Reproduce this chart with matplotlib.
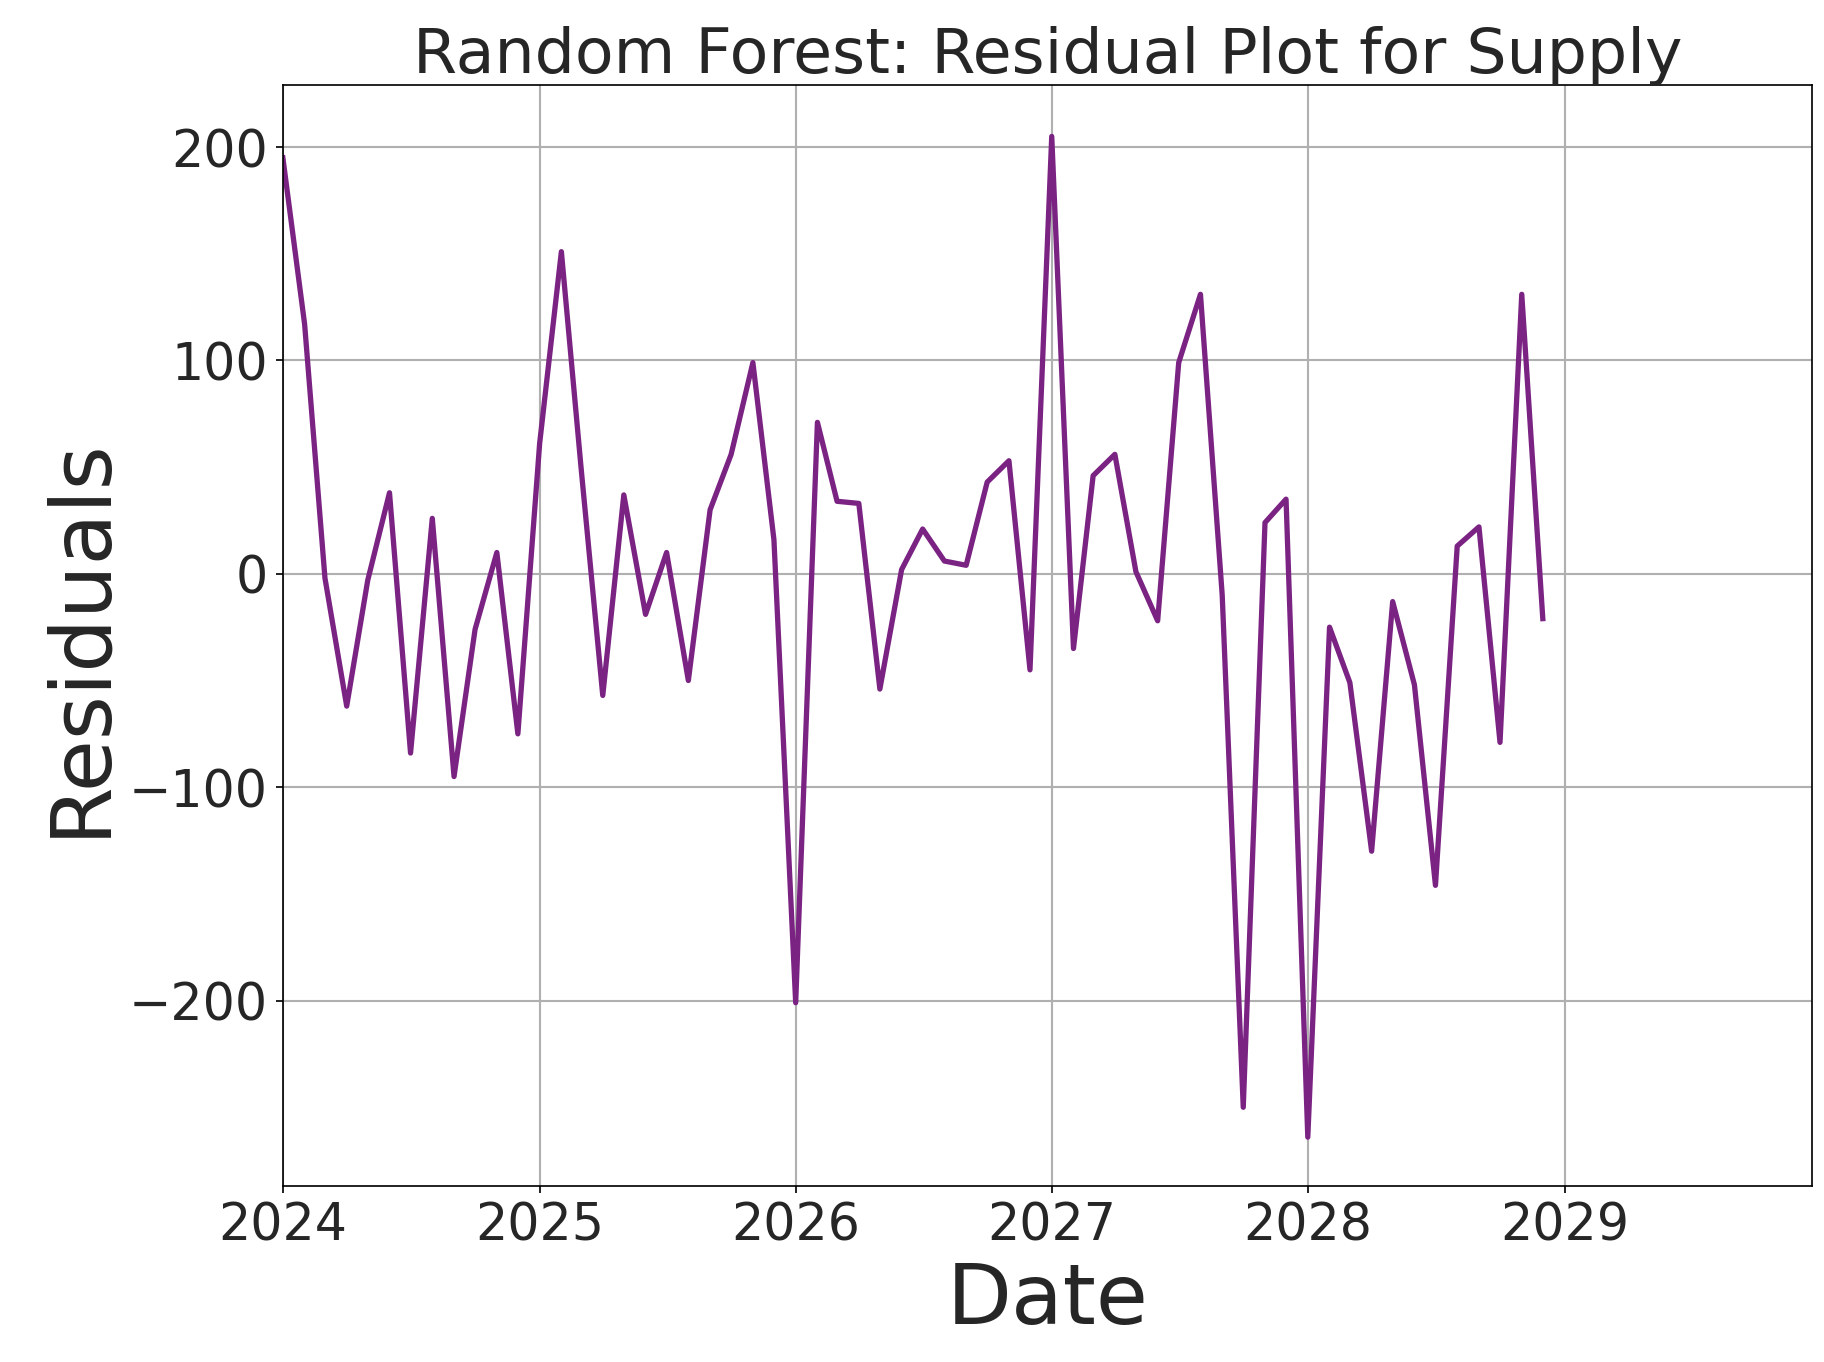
import matplotlib
matplotlib.use("Agg")
import matplotlib.pyplot as plt
import matplotlib.dates as mdates
import pandas as pd

dates = pd.date_range("2024-01-01", periods=60, freq="MS")
residuals = [195, 117, -2, -62, -3, 38, -84, 26, -95, -26, 10, -75,
             61, 151, 50, -57, 37, -19, 10, -50, 30, 56, 99, 16,
             -201, 71, 34, 33, -54, 2, 21, 6, 4, 43, 53, -45,
             205, -35, 46, 56, 1, -22, 99, 131, -10, -250, 24, 35,
             -264, -25, -51, -130, -13, -52, -146, 13, 22, -79, 131, -21]

fig = plt.figure(figsize=(12.0, 8.96), dpi=152.08)
ax = fig.add_axes([0.155, 0.129, 0.838, 0.808])
ax.plot(dates, residuals, color="#7B2383", linewidth=2.5)
ax.set_xlim(pd.Timestamp("2024-01-01"), pd.Timestamp("2029-12-20"))
ax.set_ylim(-287, 229)
ax.xaxis.set_major_locator(mdates.YearLocator())
ax.xaxis.set_major_formatter(mdates.DateFormatter("%Y"))
ax.grid(True, color="#b0b0b0", linewidth=1)
ax.tick_params(labelsize=24, labelcolor="#262626")
ax.set_title("Random Forest: Residual Plot for Supply", fontsize=30, color="#262626")
ax.set_xlabel("Date", fontsize=40, color="#262626")
ax.set_ylabel("Residuals", fontsize=40, color="#262626")
fig.savefig("out.png", dpi=152.08)
